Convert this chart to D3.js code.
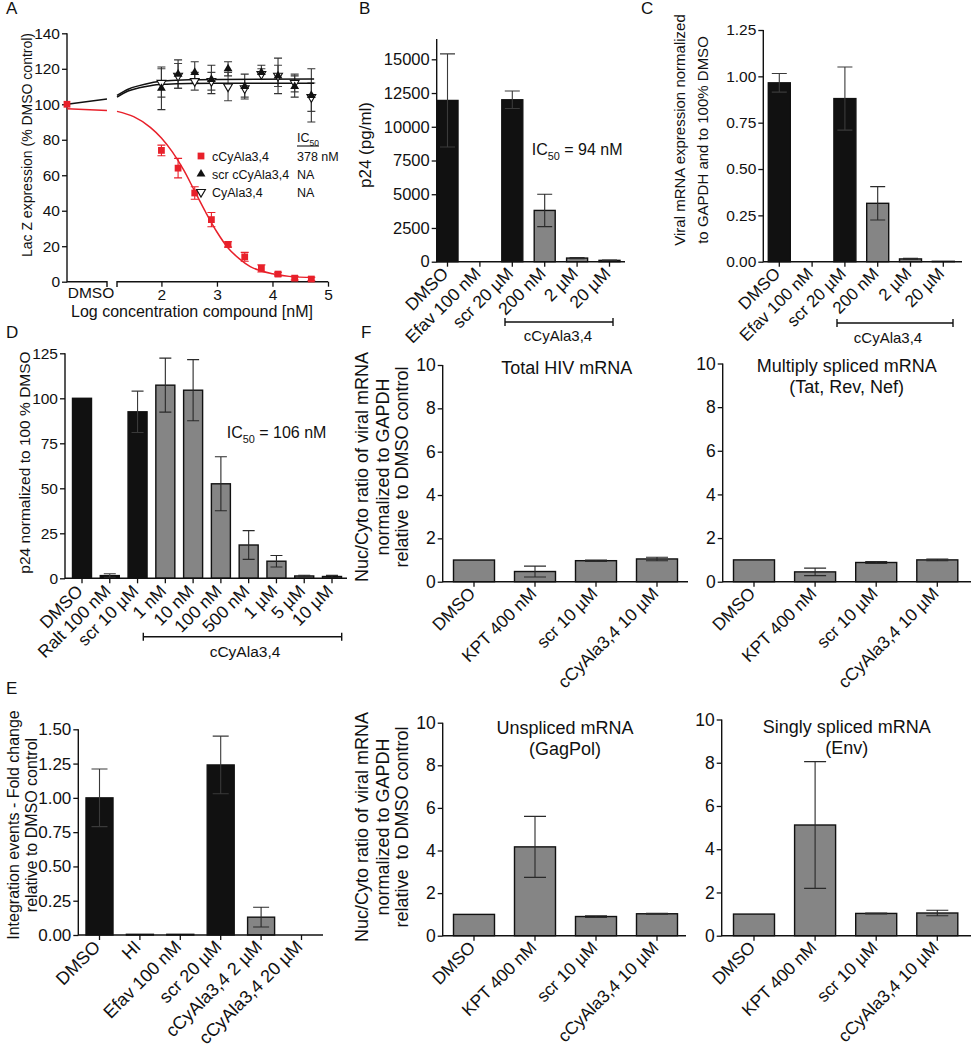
<!DOCTYPE html>
<html><head><meta charset="utf-8">
<script src="https://cdn.jsdelivr.net/npm/d3@7"></script>
<style>
body{margin:0;background:#fff}
svg{display:block;font-family:"Liberation Sans",Arial,Helvetica,sans-serif}
</style>
</head><body>
<svg id="c" width="971" height="1050"></svg>
<script>
// ---------------- Panel A data ----------------
const aLogConc = [2.0, 2.3, 2.6, 2.9, 3.2, 3.5, 3.8, 4.1, 4.4, 4.7];
const aRed    = [74, 64, 50, 35, 21, 14, 7.5, 4.3, 2, 1.5];
const aRedErr = [3, 5.5, 3.5, 4, 1.5, 2.5, 2, 1, 1, 1];
const aScr    = [109, 117, 118, 114, 120, 110, 118, 116, 110, 105];
const aScrErr = [12, 8, 6, 8, 4, 7, 4, 10, 6, 15];
const aCy     = [112, 116, 113, 113, 110, 109, 117, 116, 112, 104];
const aCyErr  = [8, 7, 5, 5, 8, 5, 3, 6, 5, 8];
const aDmsoVal = 100;
const aFitRedX = [1.2, 1.5, 1.8, 2.0, 2.2, 2.4, 2.6, 2.8, 3.0, 3.2, 3.4, 3.6, 3.8, 4.0, 4.3, 4.75];
const aFitRedY = [96, 93, 87, 81, 73, 63, 51, 39, 28, 19, 13, 8.5, 6, 4.5, 3, 2.3];
const aFitBlackX = [1.2, 1.4, 1.6, 1.8, 2.1, 2.5, 3.0, 4.75];
const aFitScrY = [105, 108.5, 110.5, 112, 113.2, 113.8, 114, 114.2];
const aFitCyY  = [104, 107.5, 109.3, 110.5, 111.3, 111.7, 111.8, 111.8];
const aDmsoFitRed = [97.5, 96.5];
const aDmsoFitBlack = [100, 103];
const aYTicks = [0, 20, 40, 60, 80, 100, 120, 140];
const aXTicks = [2, 3, 4, 5];
const aLegend = ["cCyAla3,4", "scr cCyAla3,4", "CyAla3,4"];
const aLegendIC = ["378 nM", "NA", "NA"];

// ---------------- Panel B data ----------------
const bCats = ["DMSO", "Efav 100 nM", "scr 20 µM", "200 nM", "2 µM", "20 µM"];
const bVals = [11950, 0, 12000, 3800, 270, 100];
const bErr  = [3450, 0, 650, 1200, 40, 20];
const bIsCompound = [false, false, false, true, true, true];
const bTicks = [0, 2500, 5000, 7500, 10000, 12500, 15000];

// ---------------- Panel C data ----------------
const cCats = ["DMSO", "Efav 100 nM", "scr 20 µM", "200 nM", "2 µM", "20 µM"];
const cVals = [0.965, 0, 0.88, 0.315, 0.015, 0.002];
const cErr  = [0.05, 0, 0.17, 0.09, 0.003, 0];
const cIsCompound = [false, false, false, true, true, true];
const cTicks = [0, 0.25, 0.5, 0.75, 1.0, 1.25];

// ---------------- Panel D data ----------------
const dCats = ["DMSO", "Ralt 100 nM", "scr 10 µM", "1 nM", "10 nM", "100 nM", "500 nM", "1 µM", "5 µM", "10 µM"];
const dVals = [100, 1.5, 92.5, 107.3, 104.5, 52.5, 18.5, 9.5, 1.3, 1.0];
const dErr  = [0, 1, 11.5, 15, 17, 15, 8, 3.2, 0.4, 0.6];
const dIsCompound = [false, false, false, true, true, true, true, true, true, true];
const dTicks = [0, 25, 50, 75, 100, 125];

// ---------------- Panel E data ----------------
const eCats = ["DMSO", "HI", "Efav 100 nM", "scr 20 µM", "cCyAla3,4 2 µM", "cCyAla3,4 20 µM"];
const eVals = [1.0, 0.005, 0.005, 1.24, 0.13, 0];
const eErr  = [0.21, 0, 0, 0.21, 0.072, 0];
const eIsCompound = [false, false, false, false, true, true];
const eTicks = [0, 0.25, 0.5, 0.75, 1.0, 1.25, 1.5];

// ---------------- Panel F data ----------------
const fCats = ["DMSO", "KPT 400 nM", "scr 10 µM", "cCyAla3,4 10 µM"];
const fTotal = [1.0, 0.47, 0.97, 1.05];
const fTotalErr = [0, 0.25, 0.03, 0.08];
const fMulti = [1.0, 0.45, 0.88, 1.0];
const fMultiErr = [0, 0.17, 0.04, 0.04];
const fUnspliced = [1.0, 4.17, 0.9, 1.03];
const fUnsplicedErr = [0, 1.43, 0.04, 0.02];
const fSingly = [1.0, 5.12, 1.03, 1.05];
const fSinglyErr = [0, 2.93, 0.02, 0.13];
const fTicks = [0, 2, 4, 6, 8, 10];

// ---------------- drawing helpers ----------------
const svg = d3.select("#c");
const INK = "#111", GREY = "#858585", RED = "#e8202a", ERR = "#2a2a2a";
const FONT = '"Liberation Sans",Arial,Helvetica,sans-serif';

function yAxis(g, y, ticks, fmt, x0, topY, fs) {
  const ax = d3.axisLeft(y).tickValues(ticks).tickFormat(fmt).tickSize(5).tickPadding(2);
  const gg = g.append("g").attr("transform", `translate(${x0},0)`).call(ax)
    .attr("font-family", FONT).attr("font-size", fs);
  gg.select(".domain").remove();
  gg.selectAll(".tick line").attr("stroke", INK).attr("stroke-width", 1.3);
  gg.selectAll(".tick text").attr("fill", INK);
  g.append("line").attr("x1", x0).attr("x2", x0).attr("y1", y(0) + 0.6).attr("y2", topY)
    .attr("stroke", INK).attr("stroke-width", 1.4);
}

function vText(g, txt, x, y, fs) {
  g.append("text").attr("transform", `translate(${x},${y}) rotate(-90)`)
    .attr("text-anchor", "middle").attr("dy", "0.35em").attr("font-size", fs)
    .attr("fill", INK).style("white-space", "pre").text(txt);
}

function icText(g, x, y, fs, rest) {
  const t = g.append("text").attr("x", x).attr("y", y).attr("font-size", fs).attr("fill", INK);
  t.append("tspan").text("IC");
  t.append("tspan").attr("font-size", fs * 0.68).attr("dy", fs * 0.3).text("50");
  if (rest) t.append("tspan").attr("dy", -fs * 0.3).text(rest);
  return t;
}

function bracket(g, x1, x2, y, label, lx, ly, fs) {
  g.append("path").attr("d", `M${x1},${y - 4}V${y + 4}M${x1},${y}H${x2}M${x2},${y - 4}V${y + 4}`)
    .attr("stroke", INK).attr("stroke-width", 1.4).attr("fill", "none");
  g.append("text").attr("x", lx).attr("y", ly).attr("text-anchor", "middle")
    .attr("font-size", fs).attr("fill", INK).text(label);
}

function barPanel(o) {
  const g = svg.append("g");
  const y = d3.scaleLinear().domain([0, o.yMax]).range([o.axisY, o.yMaxPos]);
  const x = d3.scalePoint().domain(o.cats).range([o.c0, o.c1]);
  yAxis(g, y, o.ticks, o.fmt, o.x0, o.topY, o.tickFs);
  g.selectAll("rect.bar").data(o.cats).join("rect").attr("class", "bar")
    .attr("x", d => x(d) - o.bw / 2)
    .attr("y", (d, i) => y(o.vals[i]))
    .attr("width", o.bw)
    .attr("height", (d, i) => o.axisY - y(o.vals[i]))
    .attr("fill", (d, i) => o.grey[i] ? GREY : INK)
    .attr("stroke", INK).attr("stroke-width", 1.4);
  const cap = o.cap;
  o.cats.forEach((c, i) => {
    const e = o.errs[i];
    if (!e) return;
    const cx = x(c), lo = y(Math.max(0, o.vals[i] - e)), hi = y(o.vals[i] + e);
    g.append("path").attr("d",
      `M${cx},${lo}V${hi}M${cx - cap / 2},${hi}H${cx + cap / 2}M${cx - cap / 2},${lo}H${cx + cap / 2}`)
      .attr("stroke", o.grey[i] ? ERR : "#3a3a3a").attr("stroke-width", 1.1).attr("fill", "none");
  });
  g.append("line").attr("x1", o.x0).attr("x2", o.xEnd).attr("y1", o.axisY).attr("y2", o.axisY)
    .attr("stroke", INK).attr("stroke-width", 1.4);
  g.selectAll("line.xt").data(o.cats).join("line").attr("class", "xt")
    .attr("x1", d => x(d)).attr("x2", d => x(d))
    .attr("y1", o.axisY).attr("y2", o.axisY + 5).attr("stroke", INK).attr("stroke-width", 1.3);
  g.selectAll("text.xl").data(o.cats).join("text").attr("class", "xl")
    .attr("transform", d => `translate(${x(d) + o.lx},${o.axisY + o.ly}) rotate(-45)`)
    .attr("text-anchor", "end").attr("font-size", o.labFs).attr("fill", INK)
    .text(d => d);
  return { g, x, y };
}

// ---------------- Panel A ----------------
(function () {
  const g = svg.append("g");
  const y = d3.scaleLinear().domain([0, 140]).range([281.7, 33.3]);
  const xD = d3.scaleLinear().domain([0, 1]).range([67, 107]);
  const xL = d3.scaleLinear().domain([1.2, 5]).range([117, 328]);
  yAxis(g, y, aYTicks, d3.format("d"), 67, 33.3, 15.5);

  g.append("path").attr("d", `M67,281.7H${xD(1)}V287`).attr("stroke", INK).attr("stroke-width", 1.4).attr("fill", "none");
  g.append("path").attr("d", `M${xL(1.2)},287V281.7H${xL(5)}`).attr("stroke", INK).attr("stroke-width", 1.4).attr("fill", "none");
  const axB = d3.axisBottom(xL).tickValues(aXTicks).tickFormat(d3.format("d")).tickSize(5).tickPadding(2);
  const gb = g.append("g").attr("transform", "translate(0,281.7)").call(axB).attr("font-family", FONT).attr("font-size", 15.5);
  gb.select(".domain").remove();
  gb.selectAll(".tick line").attr("stroke", INK).attr("stroke-width", 1.3);
  gb.selectAll(".tick text").attr("fill", INK);
  g.append("text").attr("x", xD(0.6)).attr("y", 298).attr("text-anchor", "middle").attr("font-size", 15.5).attr("fill", INK).text("DMSO");
  g.append("text").attr("x", 192).attr("y", 317).attr("text-anchor", "middle").attr("font-size", 16).attr("fill", INK).text("Log concentration compound [nM]");
  vText(g, "Lac Z expression (% DMSO control)", 27, 145, 14);

  function errs(vals, ev, col) {
    aLogConc.forEach((lx, i) => {
      const cx = xL(lx), lo = y(vals[i] - ev[i]), hi = y(vals[i] + ev[i]);
      g.append("path").attr("d", `M${cx},${lo}V${hi}M${cx - 4},${hi}H${cx + 4}M${cx - 4},${lo}H${cx + 4}`)
        .attr("stroke", col).attr("stroke-width", 1.1).attr("fill", "none");
    });
  }
  errs(aCy, aCyErr, "#444");
  errs(aScr, aScrErr, "#333");
  errs(aRed, aRedErr, RED);

  const line = d3.line().x(d => xL(d[0])).y(d => y(d[1])).curve(d3.curveMonotoneX);
  g.append("path").attr("d", line(aFitBlackX.map((v, i) => [v, aFitScrY[i]]))).attr("stroke", INK).attr("stroke-width", 1.5).attr("fill", "none");
  g.append("path").attr("d", line(aFitBlackX.map((v, i) => [v, aFitCyY[i]]))).attr("stroke", INK).attr("stroke-width", 1.5).attr("fill", "none");
  g.append("path").attr("d", line(aFitRedX.map((v, i) => [v, aFitRedY[i]]))).attr("stroke", RED).attr("stroke-width", 1.5).attr("fill", "none");
  const lineD = d3.line().x((d, i) => xD(i)).y(d => y(d));
  g.append("path").attr("d", lineD(aDmsoFitBlack)).attr("stroke", INK).attr("stroke-width", 1.5).attr("fill", "none");
  g.append("path").attr("d", lineD(aDmsoFitRed)).attr("stroke", RED).attr("stroke-width", 1.5).attr("fill", "none");

  const tri = d3.symbol().type(d3.symbolTriangle).size(34)();
  const sq = d3.symbol().type(d3.symbolSquare).size(46)();
  aLogConc.forEach((lx, i) => {
    g.append("path").attr("d", tri).attr("transform", `translate(${xL(lx)},${y(aCy[i])}) rotate(180)`)
      .attr("fill", "#fff").attr("stroke", INK).attr("stroke-width", 1.1);
    g.append("path").attr("d", tri).attr("transform", `translate(${xL(lx)},${y(aScr[i])})`).attr("fill", INK);
    g.append("path").attr("d", sq).attr("transform", `translate(${xL(lx)},${y(aRed[i])})`).attr("fill", RED);
  });
  g.append("path").attr("d", sq).attr("transform", `translate(${xD(0)},${y(aDmsoVal)})`).attr("fill", RED);

  const ly = [156, 174, 192];
  g.append("path").attr("d", sq).attr("transform", `translate(201,${ly[0]})`).attr("fill", RED);
  g.append("path").attr("d", tri).attr("transform", `translate(201,${ly[1]})`).attr("fill", INK);
  g.append("path").attr("d", tri).attr("transform", `translate(201,${ly[2]}) rotate(180)`).attr("fill", "#fff").attr("stroke", INK).attr("stroke-width", 1.1);
  aLegend.forEach((t, i) => g.append("text").attr("x", 212).attr("y", ly[i] + 4.5).attr("font-size", 12.5).attr("fill", INK).text(t));
  aLegendIC.forEach((t, i) => g.append("text").attr("x", 297).attr("y", ly[i] + 4.5).attr("font-size", 12.5).attr("fill", INK).text(t));
  icText(g, 297, 142, 12.5);
  g.append("line").attr("x1", 297).attr("x2", 319).attr("y1", 146).attr("y2", 146).attr("stroke", INK).attr("stroke-width", 1.1);
})();

// ---------------- Panel B ----------------
(function () {
  const p = barPanel({
    cats: bCats, vals: bVals, errs: bErr, grey: bIsCompound,
    yMax: 15000, yMaxPos: 59.3, axisY: 261.7, topY: 39, x0: 436.7, xEnd: 625,
    c0: 447.5, c1: 609.5, bw: 21, cap: 15, ticks: bTicks, fmt: d3.format("d"),
    tickFs: 16.5, labFs: 17.5, lx: 2, ly: 13
  });
  vText(p.g, "p24 (pg/ml)", 365, 145, 17);
  icText(p.g, 531.7, 155, 16, " = 94 nM");
  bracket(p.g, 505, 613, 322, "cCyAla3,4", 558, 341, 15);
})();

// ---------------- Panel C ----------------
(function () {
  const p = barPanel({
    cats: cCats, vals: cVals, errs: cErr, grey: cIsCompound,
    yMax: 1.25, yMaxPos: 30, axisY: 261.7, topY: 30, x0: 763.3, xEnd: 962,
    c0: 779.3, c1: 943.3, bw: 22, cap: 15, ticks: cTicks, fmt: d3.format(".2f"),
    tickFs: 15.5, labFs: 17, lx: 2, ly: 13
  });
  vText(p.g, "Viral mRNA expression normalized", 680, 130, 15);
  vText(p.g, "to GAPDH and to 100% DMSO", 703, 140, 15);
  bracket(p.g, 837, 953, 323, "cCyAla3,4", 888, 343, 15);
})();

// ---------------- Panel D ----------------
(function () {
  const p = barPanel({
    cats: dCats, vals: dVals, errs: dErr, grey: dIsCompound,
    yMax: 125, yMaxPos: 353.3, axisY: 578.3, topY: 353.3, x0: 65, xEnd: 347,
    c0: 82, c1: 332, bw: 19, cap: 12, ticks: dTicks, fmt: d3.format("d"),
    tickFs: 15.5, labFs: 17.5, lx: 2, ly: 14
  });
  vText(p.g, "p24 normalized to 100 % DMSO", 25, 462.5, 15.5);
  icText(p.g, 226.7, 438.3, 16, " = 106 nM");
  bracket(p.g, 143.3, 341.7, 636.7, "cCyAla3,4", 245, 657, 15.5);
})();

// ---------------- Panel E ----------------
(function () {
  const p = barPanel({
    cats: eCats, vals: eVals, errs: eErr, grey: eIsCompound,
    yMax: 1.5, yMaxPos: 729.3, axisY: 935, topY: 729.3, x0: 78.3, xEnd: 323,
    c0: 99.5, c1: 301.5, bw: 27, cap: 16, ticks: eTicks, fmt: d3.format(".2f"),
    tickFs: 17, labFs: 18, lx: 2, ly: 13
  });
  vText(p.g, "Integration events - Fold change", 13, 825, 16);
  vText(p.g, "relative to DMSO control", 31, 825, 16);
})();

// ---------------- Panel F ----------------
const fPanels = [
  { vals: fTotal, errs: fTotalErr, x0: 442.7, xEnd: 688, axisY: 581.7, y10: 365, c0: 474, c1: 657, title: ["Total HIV mRNA"], tx: 566.7, ty: 374 },
  { vals: fMulti, errs: fMultiErr, x0: 722.7, xEnd: 971, axisY: 581.7, y10: 363.5, c0: 754, c1: 937.3, title: ["Multiply spliced mRNA", "(Tat, Rev, Nef)"], tx: 846.7, ty: 372 },
  { vals: fUnspliced, errs: fUnsplicedErr, x0: 442.7, xEnd: 686, axisY: 935.7, y10: 722.7, c0: 474, c1: 657, title: ["Unspliced mRNA", "(GagPol)"], tx: 565, ty: 734 },
  { vals: fSingly, errs: fSinglyErr, x0: 721.7, xEnd: 971, axisY: 935.7, y10: 719.5, c0: 754, c1: 937.3, title: ["Singly spliced mRNA", "(Env)"], tx: 846.7, ty: 733 }
];
fPanels.forEach(fp => {
  const p = barPanel({
    cats: fCats, vals: fp.vals, errs: fp.errs, grey: fCats.map(() => true),
    yMax: 10, yMaxPos: fp.y10, axisY: fp.axisY, topY: fp.y10, x0: fp.x0, xEnd: fp.xEnd,
    c0: fp.c0, c1: fp.c1, bw: 41, cap: 22, ticks: fTicks, fmt: d3.format("d"),
    tickFs: 17.5, labFs: 17.5, lx: 2.5, ly: 13
  });
  fp.title.forEach((t, i) => p.g.append("text").attr("x", fp.tx).attr("y", fp.ty + i * 21)
    .attr("text-anchor", "middle").attr("font-size", 18).attr("fill", INK).text(t));
});
const fLabel = ["Nuc/Cyto ratio of viral mRNA", "normalized to GAPDH", "relative  to DMSO control"];
[467, 827].forEach(cy => {
  const g = svg.append("g");
  fLabel.forEach((t, i) => vText(g, t, [362, 383, 402][i], cy, 18));
});

// ---------------- Panel letters ----------------
const letters = [["A", 6, 14], ["B", 359, 14], ["C", 641, 14], ["D", 6, 338], ["E", 6, 694], ["F", 361, 338]];
svg.selectAll("text.letter").data(letters).join("text").attr("class", "letter")
  .attr("x", d => d[1]).attr("y", d => d[2]).attr("font-size", 17).attr("fill", INK).text(d => d[0]);
</script>
</body></html>
